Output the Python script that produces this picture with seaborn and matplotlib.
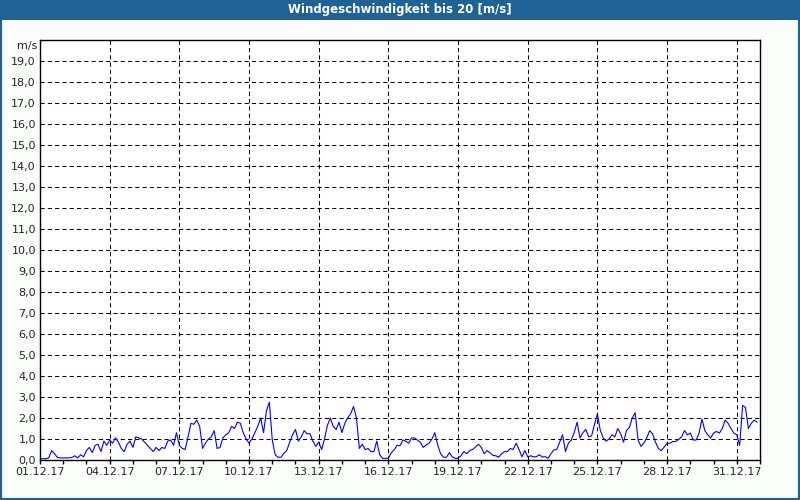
import pandas as pd
import matplotlib
matplotlib.use('Agg')
import matplotlib.pyplot as plt
import matplotlib.dates as mdates
from matplotlib.patches import Rectangle
from matplotlib.ticker import FuncFormatter
import seaborn as sns

# wind speed in m/s, one value every 3 hours (00, 03, ..., 21 h)
dec_01_10 = [
    0.06, 0.06, 0.06, 0.10, 0.45, 0.30, 0.12, 0.10,   # 01.12.
    0.10, 0.10, 0.10, 0.12, 0.20, 0.10, 0.25, 0.15,   # 02.12.
    0.45, 0.60, 0.35, 0.70, 0.75, 0.40, 0.90, 0.70,   # 03.12.
    0.95, 0.80, 1.05, 0.85, 0.55, 0.40, 0.75, 0.90,   # 04.12.
    0.60, 1.10, 1.05, 1.00, 0.85, 0.70, 0.55, 0.40,   # 05.12.
    0.60, 0.45, 0.60, 0.55, 0.90, 0.95, 0.70, 1.30,   # 06.12.
    0.70, 0.55, 0.50, 1.10, 1.75, 1.70, 1.90, 1.60,   # 07.12.
    0.55, 0.80, 1.00, 1.10, 1.40, 0.55, 0.60, 1.05,   # 08.12.
    1.20, 1.30, 1.60, 1.50, 1.80, 1.75, 1.30, 1.00,   # 09.12.
    0.80, 1.00, 1.30, 1.60, 2.00, 1.30, 2.35, 2.75,   # 10.12.
]
dec_11_20 = [
    0.96, 0.25, 0.13, 0.13, 0.32, 0.45, 0.85, 1.20,   # 11.12.
    1.45, 0.90, 1.10, 1.40, 1.25, 1.25, 0.90, 0.65,   # 12.12.
    0.85, 0.50, 1.00, 1.65, 2.00, 1.60, 1.45, 1.80,   # 13.12.
    1.30, 1.75, 2.00, 2.20, 2.55, 2.00, 0.55, 0.75,   # 14.12.
    0.50, 0.55, 0.40, 0.40, 0.90, 0.25, 0.08, 0.08,   # 15.12.
    0.08, 0.35, 0.48, 0.70, 0.68, 0.95, 0.90, 0.80,   # 16.12.
    1.05, 1.05, 0.95, 0.85, 0.60, 0.72, 0.80, 1.00,   # 17.12.
    1.30, 0.70, 0.30, 0.13, 0.13, 0.35, 0.15, 0.08,   # 18.12.
    0.08, 0.20, 0.40, 0.30, 0.45, 0.50, 0.62, 0.75,   # 19.12.
    0.60, 0.30, 0.45, 0.35, 0.22, 0.20, 0.13, 0.30,   # 20.12.
]
dec_21_31 = [
    0.40, 0.40, 0.55, 0.50, 0.80, 0.50, 0.15, 0.45,   # 21.12.
    0.15, 0.20, 0.15, 0.16, 0.25, 0.14, 0.16, 0.08,   # 22.12.
    0.30, 0.48, 0.50, 0.85, 1.20, 0.40, 0.80, 0.95,   # 23.12.
    1.30, 1.80, 1.05, 1.30, 1.45, 1.10, 1.15, 1.70,   # 24.12.
    2.20, 1.40, 1.05, 0.90, 1.00, 1.20, 1.10, 1.50,   # 25.12.
    1.25, 0.85, 1.40, 1.55, 2.00, 2.25, 0.95, 0.65,   # 26.12.
    0.80, 1.05, 1.40, 1.25, 0.85, 0.55, 0.45, 0.62,   # 27.12.
    0.80, 0.80, 0.88, 0.88, 0.98, 1.10, 1.40, 1.20,   # 28.12.
    1.28, 0.95, 0.95, 1.28, 1.95, 1.40, 1.20, 1.05,   # 29.12.
    1.28, 1.36, 1.28, 1.50, 1.90, 1.75, 1.50, 1.28,   # 30.12.
    1.20, 0.70, 2.60, 2.50, 1.50, 1.75, 1.90, 1.80,   # 31.12.
]
wind = dec_01_10 + dec_11_20 + dec_21_31

y_ticks = list(range(0, 20))
title = 'Windgeschwindigkeit bis 20 [m/s]'

times = pd.date_range('2017-12-01 00:00', periods=len(wind), freq='3h')
df = pd.DataFrame({'Zeit': times, 'Wind': wind})

sns.set_theme(style='white')
plt.rcParams['font.family'] = ['DejaVu Sans']

fig = plt.figure(figsize=(8, 5), dpi=100, facecolor='#fafdfa')
ax = fig.add_axes([0.05, 0.08, 0.90, 0.84])
ax.set_facecolor('white')

sns.lineplot(data=df, x='Zeit', y='Wind', color='#0000ff', linewidth=0.8, ax=ax)

ax.set_xlim(pd.Timestamp('2017-12-01'), pd.Timestamp('2018-01-01'))
ax.set_ylim(0, 20)
ax.set_xlabel('')
ax.set_ylabel('')

# x axis: label every 3 days, small tick every day
major_days = pd.date_range('2017-12-01', '2017-12-31', freq='3D')
ax.set_xticks(major_days)
ax.xaxis.set_major_formatter(mdates.DateFormatter('%d.%m.%y'))
ax.xaxis.set_minor_locator(mdates.DayLocator())
ax.tick_params(axis='x', which='both', direction='out', length=3, width=1,
               color='black', labelsize=8, pad=2, bottom=True)

ax.set_yticks(y_ticks)
ax.yaxis.set_major_formatter(FuncFormatter(lambda v, p: f'{v:.1f}'.replace('.', ',')))
ax.tick_params(axis='y', length=0, labelsize=8, pad=3)

ax.grid(True, which='major', color='black', linestyle=(0, (4, 3)), linewidth=0.75)
for side in ax.spines.values():
    side.set_color('black')
    side.set_linewidth(1)

ax.text(-0.004, 0.985, 'm/s', transform=ax.transAxes, ha='right', va='center', fontsize=8)

# title bar and frame
fig.patches.append(Rectangle((0, 1 - 20 / 500), 1, 20 / 500, transform=fig.transFigure,
                             facecolor='#1f6295', edgecolor='none', zorder=0))
fig.patches.append(Rectangle((0, 0), 1, 1, transform=fig.transFigure,
                             fill=False, edgecolor='#1f6295', linewidth=3, zorder=0))
fig.text(0.5, 1 - 10 / 500, title, color='white', fontweight='bold',
         ha='center', va='center', fontsize=8.5)

fig.savefig('out.png', dpi=100, facecolor=fig.get_facecolor())
